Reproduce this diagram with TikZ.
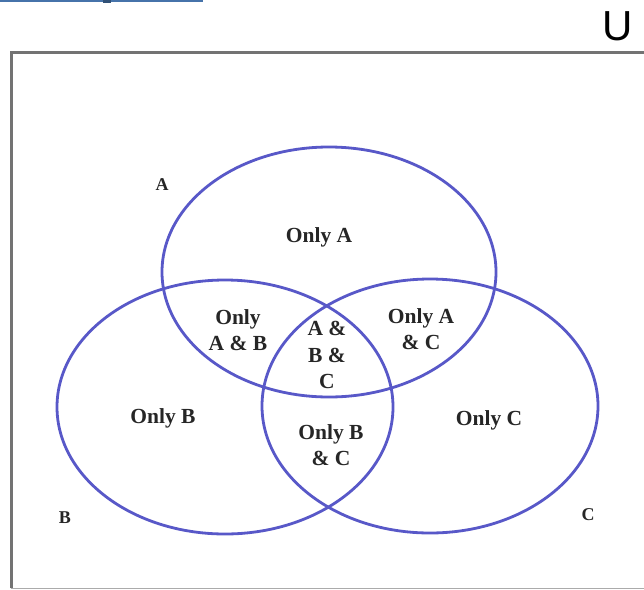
\documentclass[tikz,border=0pt]{standalone}
\usepackage{fontspec}
\setmainfont{Liberation Serif}
\newfontfamily\ufont{Liberation Sans}
\definecolor{venn}{RGB}{88,88,200}
\definecolor{frame}{RGB}{115,115,115}
\definecolor{barblue}{RGB}{70,115,170}
\tikzset{
  vennline/.style={draw=venn,line width=2.8pt},
  lbl/.style={font=\bfseries\fontsize{21.5}{26.5}\selectfont,align=center,inner sep=0pt,text=black!85},
  setlbl/.style={font=\bfseries\fontsize{18}{22}\selectfont,inner sep=0pt,text=black!85}
}
\begin{document}
\begin{tikzpicture}[x=1pt,y=-1pt]
\path[use as bounding box,fill=white] (0,0) rectangle (644,589);
% top bar remnant
\fill[barblue] (0,0) rectangle (203,1.8);
\fill[barblue!70!black] (103,0) rectangle (111,3);
% universe frame
\draw[frame,line width=3pt] (11,588) -- (11,52.5) -- (650,52.5);
\draw[frame!60,line width=1.2pt] (11,588.5) -- (650,588.5);
\node[font=\ufont\fontsize{42}{42}\selectfont,inner sep=0pt,anchor=base] (U) at (618,40) {U};
% sets
\draw[vennline] (329,272) ellipse [x radius=167,y radius=125];
\draw[vennline] (225,407) ellipse [x radius=168,y radius=127];
\draw[vennline] (430,406) ellipse [x radius=168,y radius=127];
% set labels
\node[setlbl] (la) at (162,185) {A};
\node[setlbl] (lb) at (65,518) {B};
\node[setlbl] (lc) at (588,515) {C};
% region labels
\node[lbl] (onlyA) at (319,237) {Only A};
\node[lbl] (onlyAB) at (238,330) {Only\\A \& B};
\node[lbl] (ABC) at (327,355) {A \&\\B \&\\C};
\node[lbl] (onlyAC) at (421,329) {Only A\\\& C};
\node[lbl] (onlyB) at (163,418) {Only B};
\node[lbl] (onlyBC) at (331,445) {Only B\\\& C};
\node[lbl] (onlyC) at (489,420) {Only C};
\end{tikzpicture}
\end{document}
